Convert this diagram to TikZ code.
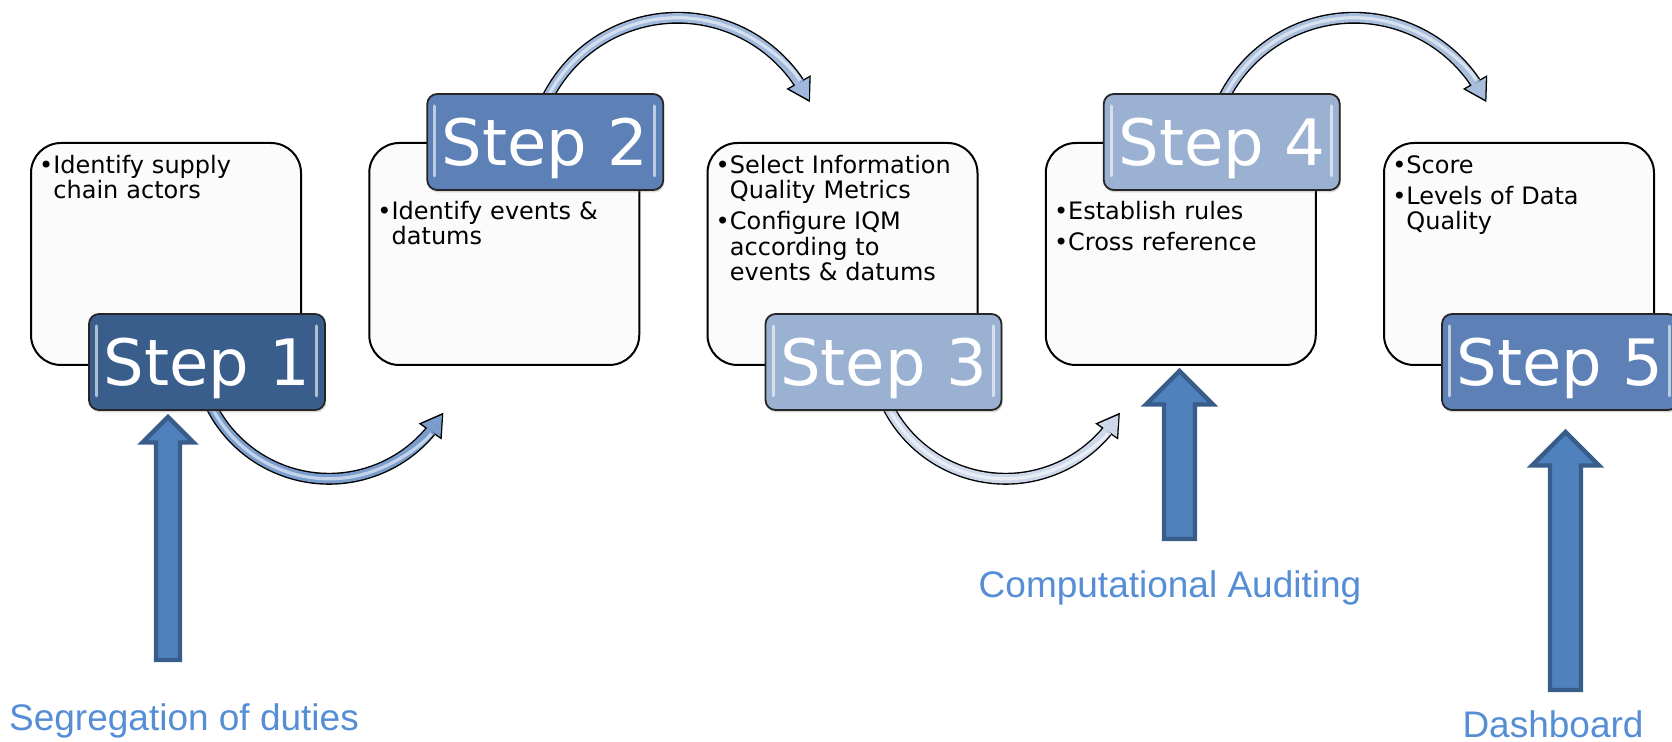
\documentclass[tikz,border=0pt]{standalone}
\usepackage{fontspec}
\setmainfont{DejaVu Sans}
\newfontfamily\labelfont{Liberation Sans}
\usetikzlibrary{arrows.meta,bending,shadows}

\definecolor{tabdark}{RGB}{58,94,140}
\definecolor{tabmid}{RGB}{93,129,182}
\definecolor{tablight}{RGB}{155,177,210}
\definecolor{bandA}{RGB}{122,157,205}
\definecolor{bandB}{RGB}{160,184,219}
\definecolor{bandC}{RGB}{205,216,234}
\definecolor{bandD}{RGB}{168,190,220}
\definecolor{blockfill}{RGB}{79,129,189}
\definecolor{blockline}{RGB}{56,93,138}
\definecolor{notecol}{RGB}{85,142,213}

\pgfdeclarelayer{bands}
\pgfsetlayers{bands,main}

\newcommand{\bul}{\leavevmode\llap{\textbullet}}
% curved band with head: start point, start angle, end angle, radius, colour
\newcommand{\bandarc}[5]{%
  \draw[line width=6pt, black, -{Triangle[length=11.5pt,width=14pt,line width=0pt,flex]}]
    #1 arc[start angle=#2, end angle=#3, radius=#4];
  \draw[line width=4.6pt, #5, shorten >=1.35pt, -{Triangle[length=9.45pt,width=11.5pt,line width=0pt,flex]}]
    #1 arc[start angle=#2, end angle=#3, radius=#4];
  \draw[line width=1.6pt, #5!45!white, shorten >=12pt]
    #1 arc[start angle=#2, end angle=#3, radius=#4];
}

\tikzset{
  infobox/.style={draw, line width=1pt, rounded corners=15pt, fill=black!1.5,
    minimum width=135pt, minimum height=111pt, inner sep=0pt, anchor=north west},
  steptab/.style={draw=black!85, line width=.9pt, rounded corners=5pt,
    minimum width=118pt, minimum height=48pt, inner sep=0pt, text=white,
    font=\fontsize{32pt}{32pt}\selectfont, text height=23.3pt, text depth=0pt,
    drop shadow={opacity=.3, shadow xshift=.6pt, shadow yshift=-1.2pt},
    path picture={
      \draw[white, opacity=.6, line width=1.5pt, line cap=round]
        ([xshift=3.8pt,yshift=-6pt]path picture bounding box.north west) --
        ([xshift=3.8pt,yshift=7pt]path picture bounding box.south west)
        ([xshift=-4.2pt,yshift=-6pt]path picture bounding box.north east) --
        ([xshift=-4.2pt,yshift=7pt]path picture bounding box.south east);
    }},
  bullets/.style={anchor=north west, inner sep=0pt, text width=120pt, align=left,
    font=\fontsize{12pt}{12.75pt}\selectfont},
  note/.style={anchor=base, inner sep=1pt, text=notecol, font=\labelfont\fontsize{18.5pt}{18.5pt}\selectfont},
  uparrow/.style={draw=blockline, fill=blockfill, line width=2.2pt, line join=miter},
}

\begin{document}
\begin{tikzpicture}[x=0.5pt, y=-0.5pt]
  \useasboundingbox (0,0) rectangle (1672,742);

  % text boxes
  \node[infobox] (box1) at (30,142) {};
  \node[infobox] (box2) at (368.25,142) {};
  \node[infobox] (box3) at (706.5,142) {};
  \node[infobox] (box4) at (1044.75,142) {};
  \node[infobox] (box5) at (1383,142) {};

  \node[bullets] (txt1) at ([xshift=11.5pt,yshift=-6.4pt]box1.north west)
    {\bul Identify supply\\chain actors};
  \node[bullets] (txt2) at ([xshift=11.5pt,yshift=-29.2pt]box2.north west)
    {\bul Identify events \&\\datums};
  \node[bullets] (txt3) at ([xshift=11.5pt,yshift=-6.4pt]box3.north west)
    {\bul Select Information\\Quality Metrics\\[2.75pt]\bul Configure IQM\\according to\\events \& datums};
  \node[bullets] (txt4) at ([xshift=11.5pt,yshift=-29.2pt]box4.north west)
    {\bul Establish rules\\[2.75pt]\bul Cross reference};
  \node[bullets] (txt5) at ([xshift=11.5pt,yshift=-6.4pt]box5.north west)
    {\bul Score\\[2.75pt]\bul Levels of Data\\Quality};

  % step tabs
  \node[steptab, fill=tabdark] (tab1) at ([xshift=88.5pt,yshift=2pt]box1.south west) {Step 1};
  \node[steptab, fill=tabmid] (tab2) at ([xshift=88.5pt]box2.north west) {Step 2};
  \node[steptab, fill=tablight] (tab3) at ([xshift=88.5pt,yshift=2pt]box3.south west) {Step 3};
  \node[steptab, fill=tablight] (tab4) at ([xshift=88.5pt]box4.north west) {Step 4};
  \node[steptab, fill=tabmid] (tab5) at ([xshift=88.5pt,yshift=2pt]box5.south west) {Step 5};

  % curved arrows between the steps
  \begin{pgfonlayer}{bands}
    \bandarc{([xshift=-1pt,yshift=9.5pt]tab1.south)}{160}{30}{132}{bandA}
    \bandarc{([yshift=-4.5pt]tab2.north)}{-155}{-25}{146}{bandB}
    \bandarc{([xshift=-1pt,yshift=9.5pt]tab3.south)}{160}{30}{132}{bandC}
    \bandarc{([yshift=-4.5pt]tab4.north)}{-155}{-25}{146}{bandD}
  \end{pgfonlayer}

  % block arrows and their labels
  \draw[uparrow] (168,417) -- (193.5,442.5) -- (180,442.5) -- (180,660)
    -- (156,660) -- (156,442.5) -- (142.5,442.5) -- cycle;
  \draw[uparrow] (1179.5,371) -- (1213,404.5) -- (1195,404.5) -- (1195,539)
    -- (1164,539) -- (1164,404.5) -- (1146,404.5) -- cycle;
  \draw[uparrow] (1565.5,432) -- (1599,465.5) -- (1581,465.5) -- (1581,690)
    -- (1550,690) -- (1550,465.5) -- (1532,465.5) -- cycle;

  \node[note] (seg) at (184,731) {Segregation of duties};
  \node[note] (audit) at (1170,598) {Computational Auditing};
  \node[note] (dash) at (1553,737.5) {Dashboard};
\end{tikzpicture}
\end{document}
